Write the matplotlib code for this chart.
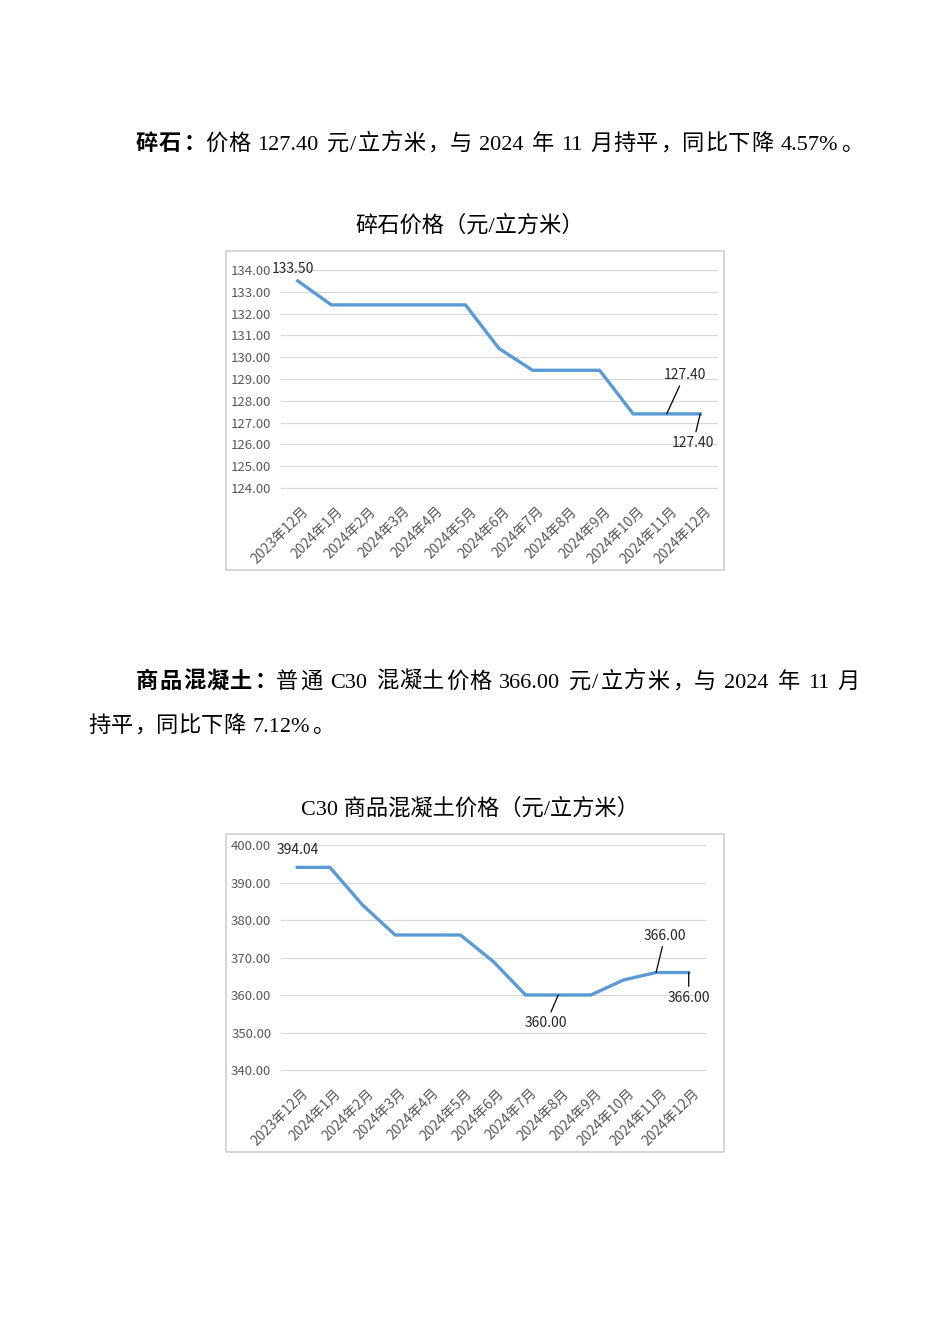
import re
import numpy as np
import matplotlib
matplotlib.use('Agg')
import matplotlib.pyplot as plt
from matplotlib.patches import Rectangle
from matplotlib.transforms import ScaledTranslation

plt.rcParams['font.family'] = ['Noto Sans CJK SC', 'DejaVu Sans']

# page size in pixels
W, H = 950, 1344
SERIF = ['Liberation Serif', 'Noto Sans CJK SC']

# data
months = ['2023年12月', '2024年1月', '2024年2月', '2024年3月', '2024年4月',
          '2024年5月', '2024年6月', '2024年7月', '2024年8月', '2024年9月',
          '2024年10月', '2024年11月', '2024年12月']
gravel_price = [133.50, 132.40, 132.40, 132.40, 132.40, 132.40, 130.40,
                129.40, 129.40, 129.40, 127.40, 127.40, 127.40]
concrete_price = [394.04, 394.04, 384.00, 376.00, 376.00, 376.00, 369.00,
                  360.00, 360.00, 360.00, 364.00, 366.00, 366.00]
gravel_ticks = [124, 125, 126, 127, 128, 129, 130, 131, 132, 133, 134]
concrete_ticks = [340, 350, 360, 370, 380, 390, 400]
gravel_title = '碎石价格（元/立方米）'
concrete_title = 'C30 商品混凝土价格（元/立方米）'
para1 = [('碎石：', True), ('价格 127.40 元/立方米，与 2024 年 11 月持平，同比下降 4.57%。', False)]
para2a = [('商品混凝土：', True), ('普通 C30 混凝土价格 366.00 元/立方米，与 2024 年 11 月', False)]
para2b = [('持平，同比下降 7.12%。', False)]

# which points get a data label: (index, dx, dy, leader line)
gravel_labels = [(0, -5, 12, False), (11, 18, 39, True), (12, -7, -29, True)]
concrete_labels = [(0, 0, 17, False), (8, -12, -28, True), (11, 9, 37, True), (12, 0, -25, True)]


def fx(x):
    return x / W


def fy(y):
    return 1 - y / H


fig = plt.figure(figsize=(W / 100, H / 100), dpi=100)
fig.patch.set_facecolor('white')
renderer = fig.canvas.get_renderer()


def put_line(runs, x0, base, x1=None, size=16):
    """Lay out one line of body text token by token, optionally justified."""
    em = size * 100 / 72
    toks = []
    for text, bold in runs:
        for tok in re.findall(r'[A-Za-z0-9.%/]+| +|.', text):
            toks.append((tok, bold))
    items = []
    for tok, bold in toks:
        if tok.strip() == '':
            items.append((None, len(tok) * 0.25 * em, 0))
        elif ord(tok[0]) > 0x2E80:
            punct = tok in '，。：'
            t = fig.text(0, fy(base), tok, fontsize=size, family=SERIF,
                         fontweight='bold' if bold else 'normal',
                         va='baseline', ha='left' if punct else 'center')
            items.append((t, em, 0.08 * em if punct else 0.5 * em))
        else:
            t = fig.text(0, fy(base), tok, fontsize=size, family=SERIF,
                         fontweight='bold' if bold else 'normal',
                         va='baseline', ha='left')
            items.append((t, t.get_window_extent(renderer).width + 0.04 * em, 0))
    gap = 0
    if x1 is not None and len(items) > 1:
        gap = (x1 - x0 - sum(w for _, w, _ in items)) / (len(items) - 1)
    x = x0
    for t, w, off in items:
        if t is not None:
            t.set_x(fx(x + off))
        x += w + gap


def draw_chart(box, frame, title, title_y, yticks, values, labels):
    left, top, right, bottom = box
    fl, ft, fr, fb = frame
    fig.add_artist(Rectangle((fx(fl), fy(fb)), (fr - fl) / W, (fb - ft) / H,
                             transform=fig.transFigure, fill=False,
                             ec='#D0D0D0', lw=1.2))
    fig.text(fx(470), fy(title_y), title, family=SERIF, fontsize=16,
             ha='center', va='center', color='#000000')

    ax = fig.add_axes([fx(left), fy(bottom), (right - left) / W, (bottom - top) / H])
    x = np.arange(len(months))
    ax.plot(x, values, color='#5B9BD5', lw=2.4, zorder=3)
    ax.set_xlim(-0.5, len(months) - 0.5)
    ax.set_ylim(yticks[0], yticks[-1])
    ax.set_yticks(yticks, [f'{v:.2f}' for v in yticks])
    ax.set_xticks(x, months, rotation=45, ha='right', va='center',
                  rotation_mode='anchor')
    ax.yaxis.grid(True, color='#D9D9D9', lw=0.9)
    for gl in ax.get_ygridlines():
        gl.set_clip_on(False)
    ax.set_axisbelow(True)
    for s in ax.spines.values():
        s.set_visible(False)
    ax.tick_params(length=0, labelsize=9.5, labelcolor='#595959')
    ax.tick_params(axis='x', labelsize=10)
    ax.tick_params(axis='y', pad=7)
    ax.tick_params(axis='x', pad=0)
    shift = ScaledTranslation(9 / 100, -21 / 100, fig.dpi_scale_trans)
    for lbl in ax.get_xticklabels():
        lbl.set_transform(lbl.get_transform() + shift)

    for i, dx, dy, leader in labels:
        props = dict(arrowstyle='-', color='black', lw=0.9,
                     shrinkA=1, shrinkB=0) if leader else None
        ax.annotate(f'{values[i]:.2f}', xy=(i, values[i]), xytext=(dx, dy),
                    textcoords='offset pixels', ha='center', va='center',
                    fontsize=10, color='#262626', arrowprops=props,
                    annotation_clip=False, zorder=4)
    return ax


# body text
put_line(para1, 136, 150, 862)
put_line(para2a, 136, 688, 860)
put_line(para2b, 88, 732, 333)

draw_chart((281, 270, 717, 488), (226, 251, 724, 570), gravel_title, 226,
           gravel_ticks, gravel_price, gravel_labels)
draw_chart((281, 845, 705, 1070), (226, 834, 724, 1152), concrete_title, 809,
           concrete_ticks, concrete_price, concrete_labels)

fig.savefig('out.png', dpi=100, facecolor='white')
